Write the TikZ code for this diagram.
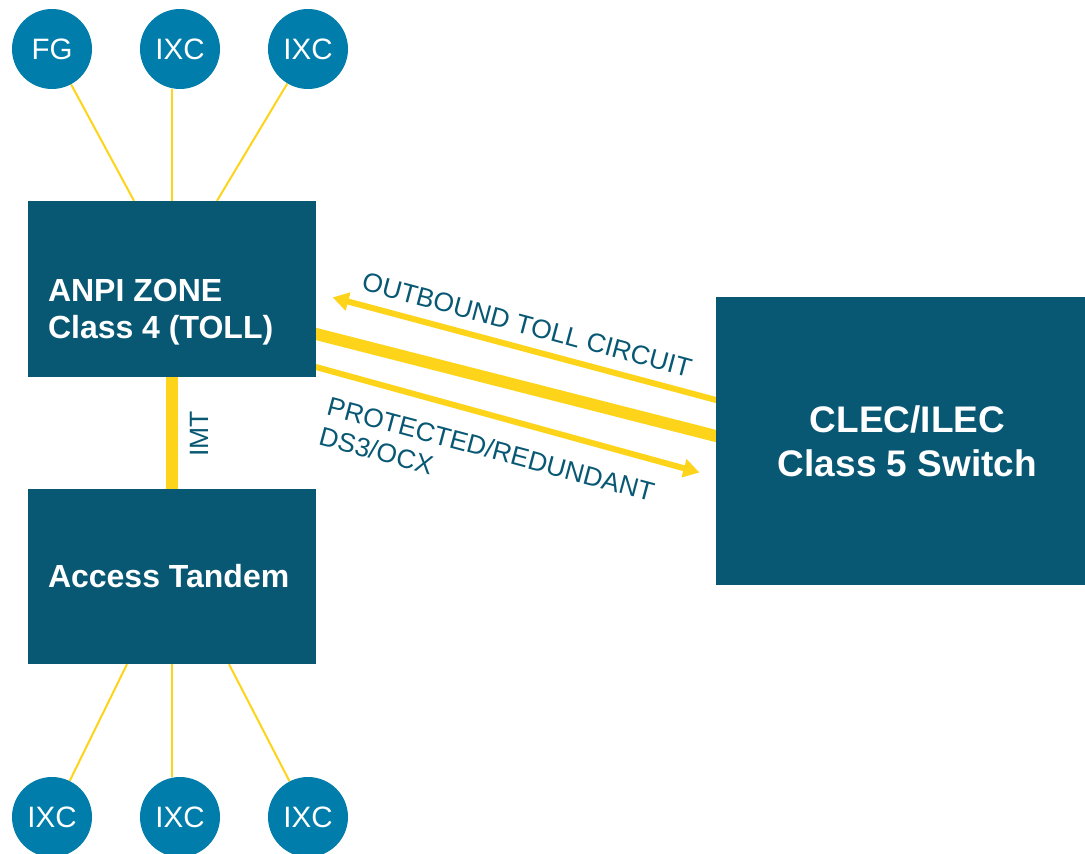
\documentclass[tikz,border=0pt]{standalone}
\usepackage{fontspec}
\setmainfont{Liberation Sans}
\usepackage{xcolor}
\usetikzlibrary{positioning, arrows.meta, calc, backgrounds}

\definecolor{switchblue}{HTML}{085874}
\definecolor{carrierblue}{HTML}{007DAA}
\definecolor{trunkyellow}{HTML}{FDD419}

\begin{document}
\begin{tikzpicture}[
    x=1pt, y=-1pt,
    switch/.style={
        rectangle,
        fill=switchblue,
        inner sep=0pt
    },
    swtext/.style={
        text=white,
        font=\fontsize{32}{37}\selectfont\bfseries,
        align=left,
        inner sep=0pt
    },
    carrier/.style={
        circle,
        fill=carrierblue,
        minimum size=80pt,
        inner sep=0pt,
        text=white,
        font=\fontsize{29.5}{34}\selectfont
    },
    feed/.style={trunkyellow, line width=2pt},
    imt/.style={trunkyellow, line width=12pt},
    circuit/.style={-{Triangle[length=16pt, width=18pt]}, trunkyellow, line width=6pt, shorten >=17pt},
    tag/.style={text=switchblue, font=\fontsize{26.5}{31}\selectfont, inner sep=0pt, align=left}
]

\useasboundingbox (0,0) rectangle (1085,854);

\def\ca{52}
\def\cb{180}
\def\cc{308}

% Switches
\node[switch, minimum width=288pt, minimum height=176pt] (anpi) at (172,289) {};
\node[switch, minimum width=288pt, minimum height=175pt] (tandem) at (172,576.5) {};
\node[switch, minimum width=383pt, minimum height=288pt, text=white, align=center,
      font=\fontsize{37}{44}\selectfont\bfseries] (clec) at (907.5,441) {CLEC/ILEC\\Class 5 Switch};

\node[swtext, anchor=west] (anpitext) at ($(anpi.west)+(20,23)$) {ANPI ZONE\\Class 4 (TOLL)};
\node[swtext, anchor=west] (tandemtext) at ($(tandem.west)+(20,0)$) {Access Tandem};

% Carriers
\node[carrier] (fg)   at (\ca,49)  {FG};
\node[carrier] (ixca) at (\cb,49)  {IXC};
\node[carrier] (ixcb) at (\cc,49)  {IXC};
\node[carrier] (ixcc) at (\ca,817) {IXC};
\node[carrier] (ixcd) at (\cb,817) {IXC};
\node[carrier] (ixce) at (\cc,817) {IXC};

\begin{scope}[on background layer]
% Feeds to the carriers
\draw[feed] (fg) -- ($(anpi.north)+(-38,0)$);
\draw[feed] (anpi.north) -- (anpi.north |- ixca.south);
\draw[feed] (ixcb) -- ($(anpi.north)+(45,0)$);
\draw[feed] (ixcc) -- ($(tandem.south)+(-45,0)$);
\draw[feed] (tandem.south) -- (tandem.south |- ixcd.north);
\draw[feed] (ixce) -- ($(tandem.south)+(57,0)$);

% Trunks
\draw[imt] (anpi.south) -- (tandem.north);
\draw[trunkyellow, line width=12pt] ($(anpi.east)+(-4,44)$) -- ($(clec.west)+(4,-4)$);
\draw[circuit] ($(clec.west)+(4,-40)$) -- ($(anpi.east)+(0,4)$);
\draw[circuit] ($(anpi.east)+(-4,77)$) -- ($(clec.west)+(0,36)$);
\end{scope}

% Labels
\node[tag, rotate=90] (imtlabel) at (199,434) {IMT};
\node[tag, rotate=-15] (outlabel) at (527,325) {OUTBOUND TOLL CIRCUIT};
\node[tag, rotate=-15] (protlabel) at (487,464) {PROTECTED/REDUNDANT\\DS3/OCX};

\end{tikzpicture}
\end{document}
